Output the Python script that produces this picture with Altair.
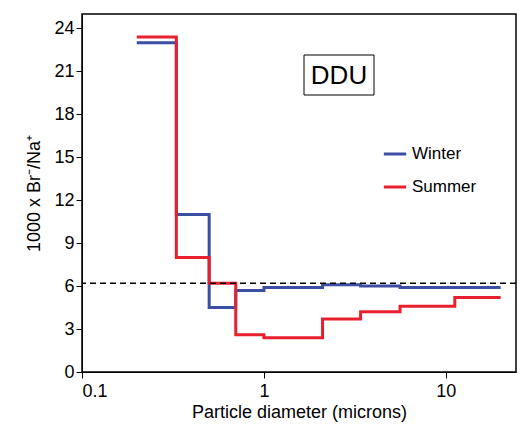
import altair as alt
import pandas as pd

w_x = [0.2, 0.33, 0.5, 0.7, 1.0, 2.1, 3.4, 5.6, 20]
w_y = [23.0, 11.0, 4.5, 5.7, 5.9, 6.1, 6.0, 5.9, 5.9]
s_x = [0.2, 0.33, 0.5, 0.7, 1.0, 2.1, 3.4, 5.6, 11.2, 20]
s_y = [23.4, 8.0, 6.2, 2.6, 2.4, 3.7, 4.2, 4.6, 5.2, 5.2]
ref_y = 6.2

df = pd.DataFrame(
    [{"x": x, "y": y, "s": "Winter"} for x, y in zip(w_x, w_y)]
    + [{"x": x, "y": y, "s": "Summer"} for x, y in zip(s_x, s_y)]
)

xs = alt.Scale(type="log", domain=[0.1, 24.3], nice=False)
ys = alt.Scale(domain=[0, 25], nice=False)

lines = alt.Chart(df).mark_line(interpolate="step-after", strokeWidth=3).encode(
    x=alt.X("x:Q", scale=xs, axis=alt.Axis(title="Particle diameter (microns)", values=[0.1, 1, 10],
            format="~g", labelFontSize=18, titleFontSize=18, titleFontWeight="normal",
            grid=False, tickSize=6, titlePadding=3, labelPadding=4)),
    y=alt.Y("y:Q", scale=ys, axis=alt.Axis(title="1000 x Br⁻/Na⁺", values=list(range(0, 25, 3)),
            labelFontSize=18, titleFontSize=18, titleFontWeight="normal", grid=False, tickSize=6,
            titlePadding=10)),
    color=alt.Color("s:N", scale=alt.Scale(domain=["Winter", "Summer"], range=["#3a4ea3", "#e8202e"]),
                    legend=alt.Legend(title=None, orient="none", legendX=300, legendY=127,
                                      symbolType="stroke", symbolStrokeWidth=3, symbolSize=500,
                                      labelFontSize=17, rowPadding=12)),
    detail="s:N",
)

dash = alt.Chart(pd.DataFrame({"y": [ref_y]})).mark_rule(strokeDash=[6, 4], color="black", strokeWidth=1.5).encode(y=alt.Y("y:Q", scale=ys))

box = alt.Chart(pd.DataFrame({"t": ["DDU"]})).mark_rect(fill="white", stroke="black", strokeWidth=1).encode(
    x=alt.value(222), x2=alt.value(292), y=alt.value(41), y2=alt.value(81))
txt = alt.Chart(pd.DataFrame({"t": ["DDU"]})).mark_text(fontSize=26, font="Arial").encode(
    x=alt.value(257), y=alt.value(62), text="t:N")

chart = (lines + dash + box + txt).properties(
    width=434, height=358, autosize=alt.AutoSizeParams(type="none"),
    padding={"left": 74, "top": 6, "right": 4, "bottom": 58}
).configure_view(stroke="black", strokeWidth=1.5).configure_axis(
    domainColor="black", tickColor="black", labelColor="black", titleColor="black", labelFont="Arial", titleFont="Arial")
chart.save("out.html", embed_options={"renderer": "svg", "actions": False})
